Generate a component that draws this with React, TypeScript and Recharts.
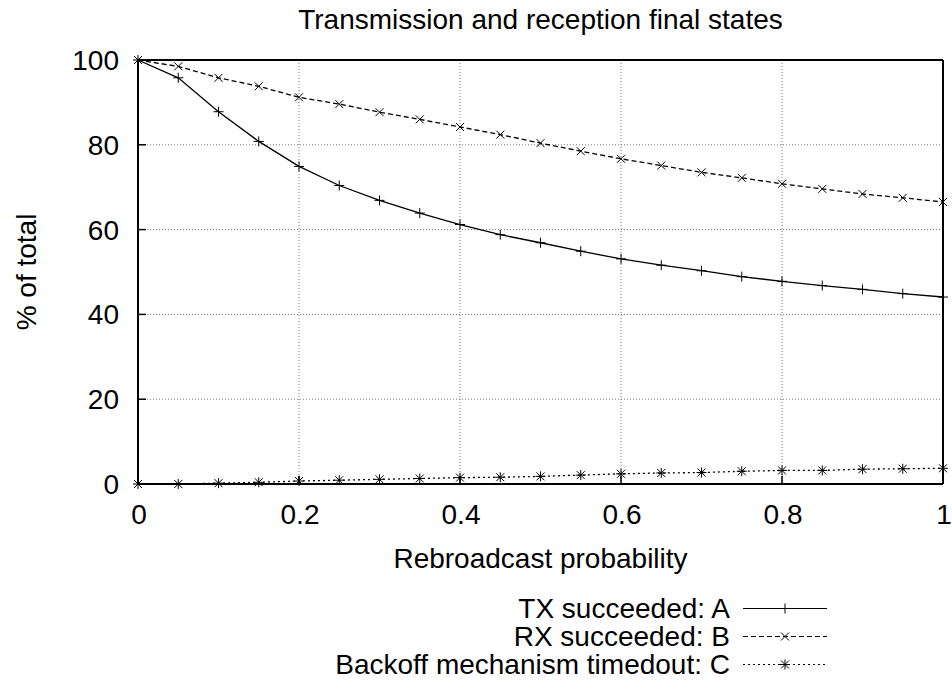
import React from 'react';
import { LineChart, Line, XAxis, YAxis, CartesianGrid, Legend, Label } from 'recharts';

const X_VALUES = [0, 0.05, 0.1, 0.15, 0.2, 0.25, 0.3, 0.35, 0.4, 0.45, 0.5, 0.55, 0.6, 0.65, 0.7, 0.75, 0.8, 0.85, 0.9, 0.95, 1];
const TX_SUCCEEDED = [100, 95.8, 87.8, 80.8, 74.9, 70.4, 66.9, 63.9, 61.2, 58.8, 56.9, 54.9, 53.1, 51.6, 50.3, 48.9, 47.8, 46.8, 45.9, 44.9, 44.1];
const RX_SUCCEEDED = [100, 98.5, 95.8, 93.8, 91.2, 89.6, 87.7, 86.0, 84.2, 82.4, 80.4, 78.5, 76.7, 75.1, 73.5, 72.2, 70.8, 69.6, 68.4, 67.5, 66.5];
const BACKOFF_TIMEDOUT = [0, 0, 0.2, 0.4, 0.7, 0.9, 1.1, 1.3, 1.5, 1.6, 1.8, 2.1, 2.4, 2.6, 2.7, 3.0, 3.2, 3.2, 3.5, 3.6, 3.7];

const X_TICKS = [0, 0.2, 0.4, 0.6, 0.8, 1];
const Y_TICKS = [0, 20, 40, 60, 80, 100];

const TITLE = 'Transmission and reception final states';
const X_LABEL = 'Rebroadcast probability';
const Y_LABEL = '% of total';
const SERIES_KEYS = ['tx', 'rx', 'c'];
const SERIES_NAMES = ['TX succeeded: A', 'RX succeeded: B', 'Backoff mechanism timedout: C'];

const data = X_VALUES.map((x, i) => ({
  x,
  tx: TX_SUCCEEDED[i],
  rx: RX_SUCCEEDED[i],
  c: BACKOFF_TIMEDOUT[i],
}));

const FONT = '"Liberation Sans", Arial, Helvetica, sans-serif';
const FS = 28;

const STYLES: Record<string, { dash?: string; marker: string }> = {
  tx: { dash: undefined, marker: 'plus' },
  rx: { dash: '5 3', marker: 'cross' },
  c: { dash: '2 3', marker: 'star' },
};

function markerPath(kind: string, cx: number, cy: number) {
  const p = 5;
  const c = 4;
  let d = '';
  if (kind === 'plus' || kind === 'star') d += `M${cx - p},${cy}H${cx + p}M${cx},${cy - p}V${cy + p}`;
  if (kind === 'cross' || kind === 'star') d += `M${cx - c},${cy - c}L${cx + c},${cy + c}M${cx - c},${cy + c}L${cx + c},${cy - c}`;
  return d;
}

const makeDot = (kind: string) => (props: any) => {
  const { cx, cy, index } = props;
  if (cx == null || cy == null) return <g key={`d-${kind}-${index}`} />;
  return <path key={`d-${kind}-${index}`} d={markerPath(kind, cx, cy)} stroke="#000" strokeWidth={1} fill="none" />;
};

const XTick = (props: any) => {
  const { x, y, payload } = props;
  return (
    <text x={x + 1} y={y} textAnchor="middle" fontFamily={FONT} fontSize={FS} fill="#000">
      {String(payload.value)}
    </text>
  );
};

const YTick = (props: any) => {
  const { x, y, payload } = props;
  return (
    <text x={x} y={y + 10} textAnchor="end" fontFamily={FONT} fontSize={FS} fill="#000">
      {String(payload.value)}
    </text>
  );
};

const LegendBlock = () => {
  const rowY = [608.5, 636.5, 664.5];
  return (
    <svg width={952} height={680} style={{ position: 'absolute', left: 0, top: 0, pointerEvents: 'none' }}>
      {SERIES_KEYS.map((k, i) => {
        const st = STYLES[k];
        const cy = rowY[i];
        return (
          <g key={k}>
            <text x={730} y={cy + 9.5} textAnchor="end" fontFamily={FONT} fontSize={FS} fill="#000">
              {SERIES_NAMES[i]}
            </text>
            <line x1={743} x2={827} y1={cy} y2={cy} stroke="#000" strokeWidth={1.2} strokeDasharray={st.dash} />
            <path d={markerPath(st.marker, 785, cy)} stroke="#000" strokeWidth={1} fill="none" />
          </g>
        );
      })}
    </svg>
  );
};

export default function App() {
  return (
    <div style={{ position: 'absolute', left: 0, top: 0, width: 952, height: 680, background: '#fff' }}>
      <LineChart width={952} height={680} data={data} margin={{ top: 59, right: 8, bottom: 0, left: 0 }}>
        <CartesianGrid stroke="#777" strokeDasharray="1 2" strokeWidth={1} />
        <XAxis
          dataKey="x"
          type="number"
          domain={[0, 1]}
          ticks={X_TICKS}
          height={196}
          axisLine={{ stroke: '#000', strokeWidth: 2 }}
          tickLine={{ stroke: '#000', strokeWidth: 1.5 }}
          tickSize={-8}
          tickMargin={48}
          tick={<XTick />}
          interval={0}
        >
          <Label
            content={(p: any) => {
              const vb = p.viewBox;
              return (
                <text x={vb.x + vb.width / 2} y={568} textAnchor="middle" fontFamily={FONT} fontSize={FS} fill="#000">
                  {X_LABEL}
                </text>
              );
            }}
          />
        </XAxis>
        <XAxis
          xAxisId="top"
          orientation="top"
          dataKey="x"
          type="number"
          domain={[0, 1]}
          ticks={X_TICKS}
          height={1}
          axisLine={{ stroke: '#000', strokeWidth: 2 }}
          tickLine={{ stroke: '#000', strokeWidth: 1.5 }}
          tickSize={-8}
          tick={false}
          interval={0}
        >
          <Label
            content={(p: any) => {
              const vb = p.viewBox;
              return (
                <text x={vb.x + vb.width / 2} y={29} textAnchor="middle" fontFamily={FONT} fontSize={FS} fill="#000">
                  {TITLE}
                </text>
              );
            }}
          />
        </XAxis>
        <YAxis
          type="number"
          domain={[0, 100]}
          ticks={Y_TICKS}
          width={138}
          axisLine={{ stroke: '#000', strokeWidth: 2 }}
          tickLine={{ stroke: '#000', strokeWidth: 1.5 }}
          tickSize={-8}
          tickMargin={27}
          tick={<YTick />}
          interval={0}
        >
          <Label
            content={(p: any) => {
              const vb = p.viewBox;
              const cy = vb.y + vb.height / 2;
              return (
                <text
                  x={36}
                  y={cy}
                  transform={`rotate(-90 36 ${cy})`}
                  textAnchor="middle"
                  fontFamily={FONT}
                  fontSize={FS}
                  fill="#000"
                >
                  {Y_LABEL}
                </text>
              );
            }}
          />
        </YAxis>
        <YAxis
          yAxisId="right"
          orientation="right"
          type="number"
          domain={[0, 100]}
          ticks={Y_TICKS}
          width={1}
          axisLine={{ stroke: '#000', strokeWidth: 2 }}
          tickLine={{ stroke: '#000', strokeWidth: 1.5 }}
          tickSize={-8}
          tick={false}
          interval={0}
        />
        <Line
          dataKey="tx"
          name={SERIES_NAMES[0]}
          stroke="#000"
          strokeWidth={1.3}
          dot={makeDot('plus')}
          activeDot={false}
          isAnimationActive={false}
        />
        <Line
          dataKey="rx"
          name={SERIES_NAMES[1]}
          stroke="#000"
          strokeWidth={1.3}
          strokeDasharray="5 3"
          dot={makeDot('cross')}
          activeDot={false}
          isAnimationActive={false}
        />
        <Line
          dataKey="c"
          name={SERIES_NAMES[2]}
          stroke="#000"
          strokeWidth={1.3}
          strokeDasharray="2 3"
          dot={makeDot('star')}
          activeDot={false}
          isAnimationActive={false}
        />
        <Legend
          layout="vertical"
          align="center"
          verticalAlign="middle"
          content={() => <LegendBlock />}
          wrapperStyle={{ left: 0, top: 0, width: 952, height: 680, pointerEvents: 'none' }}
        />
      </LineChart>
    </div>
  );
}
